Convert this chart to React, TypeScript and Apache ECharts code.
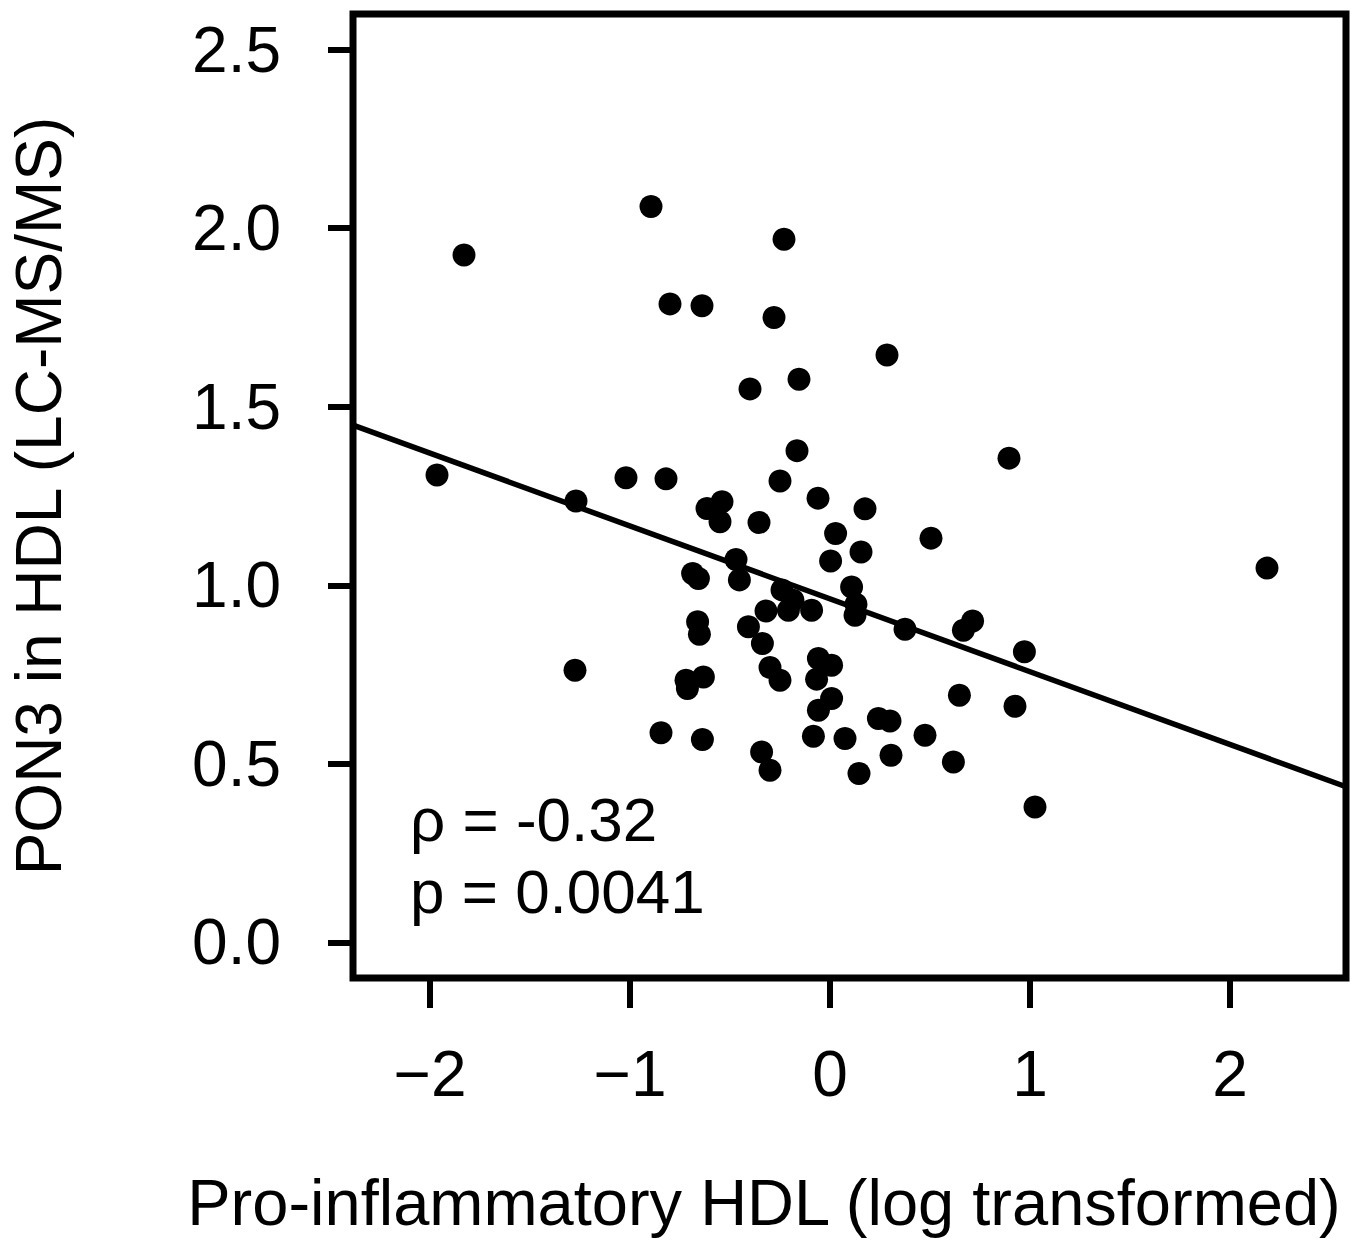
import React, { useEffect, useRef } from "react";
import * as echarts from "echarts";

// Pro-inflammatory HDL (log transformed)
const xValues: number[] = [
  -1.83, -0.895, -0.23, -0.8, -0.64, -0.28, -0.4, -0.155, -0.165, -1.965,
  -1.02, -0.82, -1.27, -0.25, -0.06, -0.615, -0.54, -0.55, -0.355, 0.028,
  0.285, 0.895, 2.185, 0.505, 0.175, 0.155, 0.003, -0.47, -0.453, -0.687,
  -0.658, -0.24, -0.185, -0.208, -0.092, -0.32, 0.108, 0.13, 0.125, 0.375,
  0.713, 0.667, 0.972, -0.662, -0.653, -0.408, -0.338, -0.058, 0.008, -0.067,
  0.008, -0.058, -0.3, -0.25, -0.72, -0.633, -0.713, 0.647, 0.925, 0.242,
  0.3, -0.845, -0.638, -0.083, 0.075, 0.475, 0.305, 0.617, -0.342, -0.3,
  0.145, 1.025, -1.275,
];
// PON3 in HDL (LC-MS/MS)
const yValues: number[] = [
  1.925, 2.061, 1.969, 1.788, 1.783, 1.75, 1.55, 1.577, 1.377, 1.309,
  1.301, 1.298, 1.236, 1.292, 1.244, 1.215, 1.234, 1.178, 1.176, 1.145,
  1.645, 1.356, 1.048, 1.132, 1.214, 1.093, 1.068, 1.072, 1.015, 1.033,
  1.019, 0.987, 0.958, 0.93, 0.93, 0.928, 0.995, 0.947, 0.916, 0.877,
  0.9, 0.874, 0.814, 0.898, 0.863, 0.884, 0.837, 0.795, 0.776, 0.737,
  0.683, 0.65, 0.77, 0.734, 0.734, 0.743, 0.711, 0.692, 0.661, 0.627,
  0.62, 0.587, 0.568, 0.577, 0.571, 0.58, 0.524, 0.505, 0.533, 0.482,
  0.473, 0.379, 0.762,
];

const xTicks: number[] = [-2, -1, 0, 1, 2];
const yTicks: number[] = [0, 0.5, 1, 1.5, 2, 2.5];
const xRange: number[] = [-2.385, 2.58];
const yRange: number[] = [-0.1, 2.6];

// Linear fit
const fitIntercept = 0.962;
const fitSlope = -0.204;

const xTitle = "Pro-inflammatory HDL (log transformed)";
const yTitle = "PON3 in HDL (LC-MS/MS)";
const statLines: string[] = ["ρ = -0.32", "p = 0.0041"];

const FONT = "'Liberation Sans', Arial, Helvetica, sans-serif";

export default function App() {
  const ref = useRef<HTMLDivElement>(null);
  useEffect(() => {
    if (!ref.current) return;
    const chart = echarts.init(ref.current, undefined, { renderer: "svg" });
    const points = xValues.map((x, i) => [x, yValues[i]]);
    const fit = xRange.map((x) => [x, fitIntercept + fitSlope * x]);
    chart.setOption({
      animation: false,
      backgroundColor: "#ffffff",
      grid: {
        left: 353,
        top: 14,
        right: 14,
        bottom: 263,
        containLabel: false,
        outerBoundsMode: "none",
        show: true,
        borderColor: "#000",
        borderWidth: 7,
        backgroundColor: "transparent",
      },
      xAxis: {
        type: "value",
        min: xRange[0],
        max: xRange[1],
        axisLine: { show: false, onZero: false },
        splitLine: { show: false },
        axisTick: {
          show: true,
          length: 30,
          inside: false,
          customValues: xTicks,
          lineStyle: { color: "#000", width: 6 },
        },
        axisLabel: {
          customValues: xTicks,
          margin: 64,
          fontFamily: FONT,
          fontSize: 64,
          color: "#000",
          formatter: (v: number) => (v < 0 ? "\u2212" + Math.abs(v) : String(v)),
        },
      },
      yAxis: {
        type: "value",
        min: yRange[0],
        max: yRange[1],
        name: yTitle,
        nameLocation: "middle",
        nameGap: 282,
        nameRotate: 90,
        nameTextStyle: { fontFamily: FONT, fontSize: 64, color: "#000" },
        axisLine: { show: false, onZero: false },
        splitLine: { show: false },
        axisTick: {
          show: true,
          length: 25,
          inside: false,
          customValues: yTicks,
          lineStyle: { color: "#000", width: 6 },
        },
        axisLabel: {
          customValues: yTicks,
          margin: 72,
          fontFamily: FONT,
          fontSize: 64,
          color: "#000",
          formatter: (v: number) => v.toFixed(1),
        },
      },
      series: [
        {
          type: "scatter",
          data: points,
          symbol: "circle",
          symbolSize: 23,
          itemStyle: { color: "#000", opacity: 1 },
          z: 3,
        },
        {
          type: "line",
          data: fit,
          symbol: "none",
          lineStyle: { color: "#000", width: 5.5 },
          z: 2,
        },
      ],
      graphic: [
        ...statLines.map((t, i) => ({
          type: "text",
          left: 410,
          top: 788 + i * 72,
          style: {
            text: t,
            fontFamily: FONT,
            fontSize: 62,
            fill: "#000",
          },
        })),
        {
          type: "text",
          x: 764,
          y: 1202,
          style: {
            text: xTitle,
            fontFamily: FONT,
            fontSize: 65,
            fill: "#000",
            align: "center",
            verticalAlign: "middle",
          },
        },
      ],
    });
    return () => chart.dispose();
  }, []);
  return (
    <div
      ref={ref}
      style={{ position: "fixed", left: 0, top: 0, width: 1360, height: 1241, background: "#fff" }}
    />
  );
}
